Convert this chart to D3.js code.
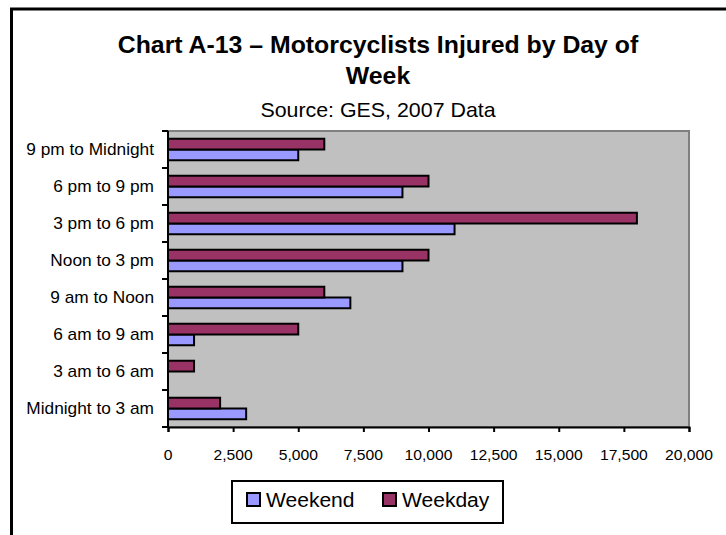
<!DOCTYPE html>
<html>
<head>
<meta charset="utf-8">
<script src="https://cdn.jsdelivr.net/npm/d3@7"></script>
<style>
  body { margin: 0; background: #fff; overflow: hidden; }
  text { font-family: Arial, "Liberation Sans", sans-serif; fill: #000; }
</style>
</head>
<body>
<div id="chart"></div>
<script>
// categories, bottom to top as in the picture
var categories = ["Midnight to 3 am", "3 am to 6 am", "6 am to 9 am", "9 am to Noon",
                  "Noon to 3 pm", "3 pm to 6 pm", "6 pm to 9 pm", "9 pm to Midnight"];
var weekend = [3000, 0, 1000, 7000, 9000, 11000, 9000, 5000];
var weekday = [2000, 1000, 5000, 6000, 10000, 18000, 10000, 6000];
var seriesNames = ["Weekend", "Weekday"];
var xTicks = [0, 2500, 5000, 7500, 10000, 12500, 15000, 17500, 20000];

var colors = { Weekend: "#9999FF", Weekday: "#993366" };

var W = 726, H = 535;
var plot = { left: 168, right: 689, top: 131, bottom: 427 };
var sx = 1.08; // the original text is a little wider than plain Arial

var svg = d3.select("#chart").append("svg")
    .attr("width", W).attr("height", H);

// text helper, stretched horizontally around its anchor point
function label(parent, x, y, str, size, anchor, bold) {
    return parent.append("g")
        .attr("transform", "translate(" + x + "," + y + ") scale(" + sx + ",1)")
      .append("text")
        .attr("text-anchor", anchor)
        .style("font-size", size + "px")
        .style("font-weight", bold ? "bold" : "normal")
        .text(str);
}

// outer frame (runs off the right and bottom of the picture)
svg.append("rect")
    .attr("x", 11.5).attr("y", 9)
    .attr("width", 735).attr("height", 560)
    .attr("fill", "#fff").attr("stroke", "#000").attr("stroke-width", 3);

// titles
var cx = 378;
label(svg, cx, 53, "Chart A-13 \u2013 Motorcyclists Injured by Day of", 23, "middle", true);
label(svg, cx, 84, "Week", 23, "middle", true);
label(svg, cx, 117, "Source: GES, 2007 Data", 19.8, "middle", false);

var x = d3.scaleLinear().domain([0, 20000]).range([plot.left, plot.right]);

// top to bottom order for the band scale
var y = d3.scaleBand()
    .domain(categories.slice().reverse())
    .range([plot.top, plot.bottom]);

var inner = d3.scaleBand()
    .domain(["Weekday", "Weekend"])
    .range([0, y.bandwidth()])
    .paddingOuter(0.72);

// plot background
svg.append("rect")
    .attr("x", plot.left).attr("y", plot.top)
    .attr("width", plot.right - plot.left).attr("height", plot.bottom - plot.top)
    .attr("fill", "#C0C0C0").attr("stroke", "#808080").attr("stroke-width", 2);

var rows = categories.map(function(c, i) {
    return { cat: c, Weekend: weekend[i], Weekday: weekday[i] };
});

var groups = svg.selectAll(".row").data(rows).enter().append("g")
    .attr("class", "row")
    .attr("transform", function(d) { return "translate(0," + y(d.cat) + ")"; });

groups.selectAll("rect")
    .data(function(d) {
        return seriesNames.map(function(s) { return { key: s, value: d[s] }; })
            .filter(function(e) { return e.value > 0; });
    })
    .enter().append("rect")
    .attr("x", x(0))
    .attr("y", function(d) { return inner(d.key); })
    .attr("width", function(d) { return x(d.value) - x(0); })
    .attr("height", inner.bandwidth())
    .attr("fill", function(d) { return colors[d.key]; })
    .attr("stroke", "#000").attr("stroke-width", 2);

// y axis: ticks between categories, labels centred in the bands
var yAxisG = svg.append("g");
yAxisG.append("line")
    .attr("x1", plot.left).attr("x2", plot.left)
    .attr("y1", plot.top).attr("y2", plot.bottom)
    .attr("stroke", "#000").attr("stroke-width", 2);
var bounds = d3.range(categories.length + 1).map(function(i) { return plot.top + i * y.step(); });
yAxisG.selectAll(".yt").data(bounds).enter().append("line")
    .attr("x1", plot.left - 6).attr("x2", plot.left)
    .attr("y1", function(d) { return d; }).attr("y2", function(d) { return d; })
    .attr("stroke", "#000").attr("stroke-width", 2);
categories.forEach(function(c) {
    label(yAxisG, 154, y(c) + y.bandwidth() / 2 + 5.7, c, 16, "end", false);
});

// x axis
var xAxis = d3.axisBottom(x).tickValues(xTicks).tickSize(5).tickFormat("");
var xg = svg.append("g")
    .attr("transform", "translate(0," + plot.bottom + ")")
    .call(xAxis);
xg.select(".domain").attr("stroke", "#000").attr("stroke-width", 2);
xg.selectAll(".tick line").attr("stroke", "#000").attr("stroke-width", 2);
xTicks.forEach(function(t) {
    label(svg, x(t), 460, d3.format(",")(t), 14.5, "middle", false);
});

// legend
var lg = svg.append("g");
lg.append("rect")
    .attr("x", 232).attr("y", 481).attr("width", 271).attr("height", 42)
    .attr("fill", "#fff").attr("stroke", "#000").attr("stroke-width", 2);
var legX = [247, 383];
seriesNames.forEach(function(s, i) {
    lg.append("rect")
        .attr("x", legX[i]).attr("y", 493).attr("width", 13).attr("height", 13)
        .attr("fill", colors[s]).attr("stroke", "#000").attr("stroke-width", 2);
    label(lg, legX[i] + 19, 507, s, 19.5, "start", false);
});
</script>
</body>
</html>
